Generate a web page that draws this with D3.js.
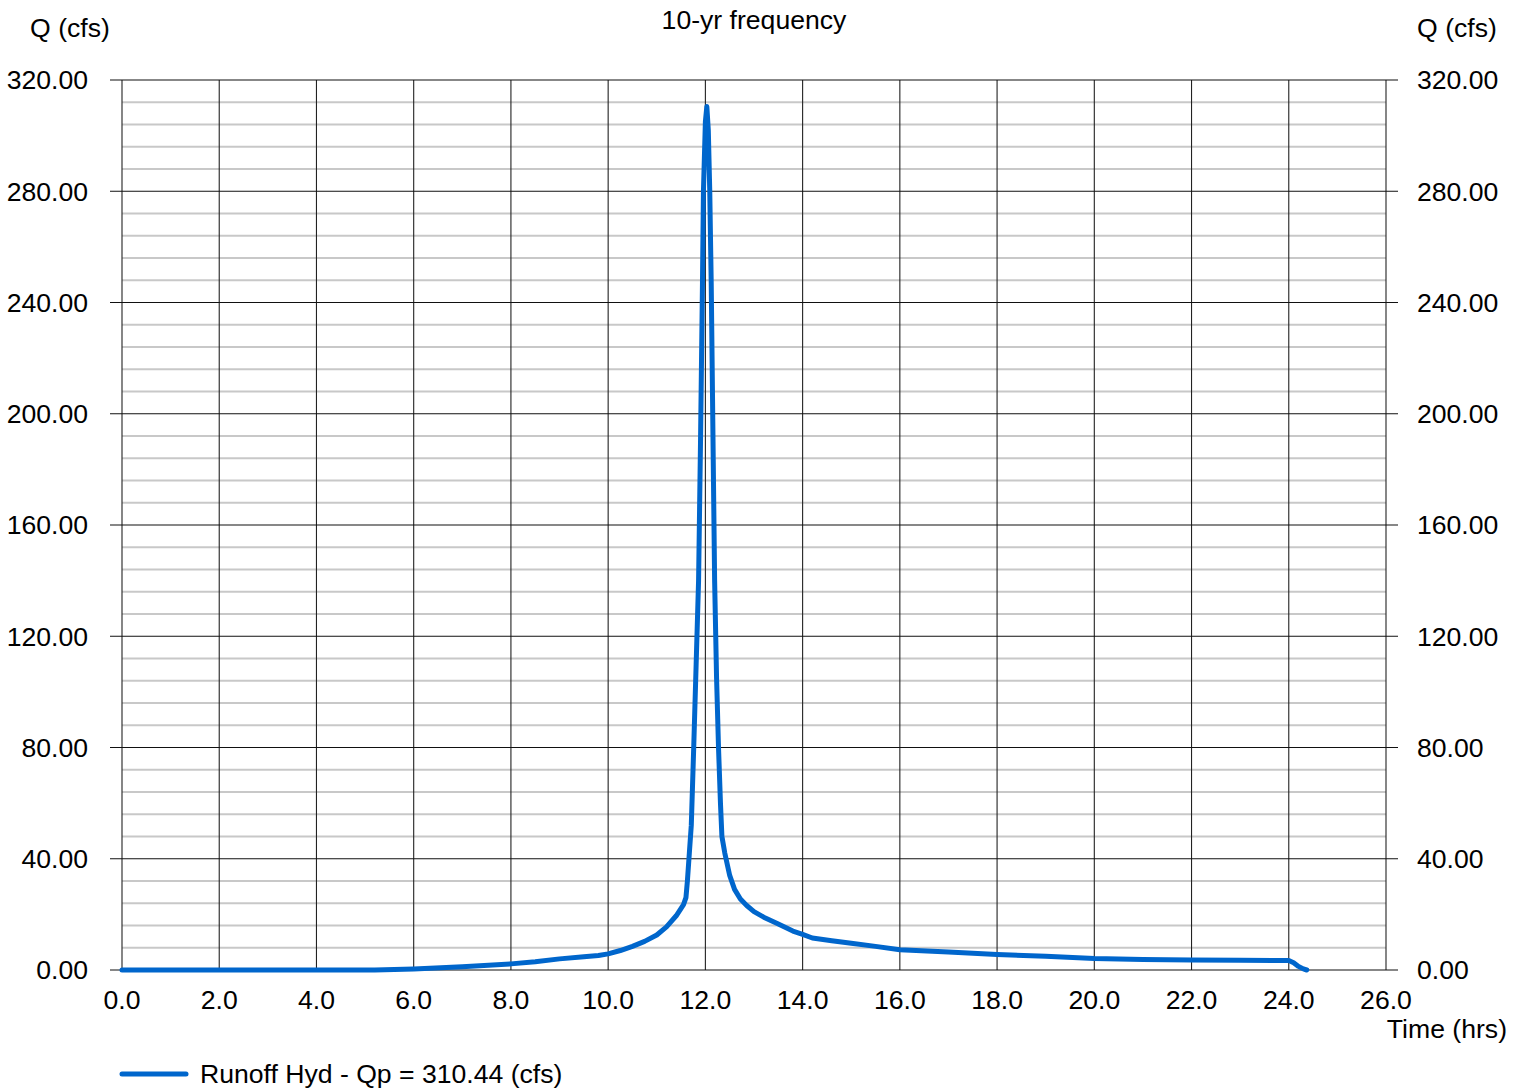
<!DOCTYPE html>
<html>
<head>
<meta charset="utf-8">
<script src="https://cdn.jsdelivr.net/npm/d3@7"></script>
<style>
  html, body { margin: 0; padding: 0; background: #fff; }
  svg text { font-family: "Liberation Sans", Arial, sans-serif; fill: #000; font-size: 26.6px; }
</style>
</head>
<body>
<div id="chart"></div>
<script>
// hydrograph
let timeHrs = [0.0, 5.2, 6.0, 7.0, 8.0, 8.5, 9.0, 9.5, 9.8, 10.0, 10.25, 10.5, 10.75, 11.0, 11.2, 11.4,
  11.55, 11.6, 11.63, 11.67, 11.71, 11.76, 11.81, 11.86, 11.9, 11.94, 11.96, 12.0, 12.03, 12.06,
  12.09, 12.12, 12.19, 12.23, 12.27, 12.31, 12.34, 12.4, 12.5, 12.6, 12.72, 12.85, 13.0, 13.2,
  13.5, 13.8, 14.0, 14.2, 14.6, 15.0, 15.5, 16.0, 17.0, 18.0, 19.0, 20.0, 21.0, 22.0, 23.0,
  24.0, 24.1, 24.2, 24.3, 24.37];
let flowCfs = [0, 0, 0.4, 1.2, 2.2, 3.0, 4.0, 4.8, 5.2, 5.8, 7.0, 8.5, 10.3, 12.6, 15.5, 19.5,
  23.5, 26, 32, 42, 52, 80, 110, 140, 190, 247, 280, 305, 310.44, 302,
  280, 247, 140, 105, 80, 60, 48, 42, 34, 29, 25.5, 23.2, 21, 19,
  16.5, 14, 12.8, 11.5, 10.5, 9.6, 8.5, 7.3, 6.5, 5.6, 4.9, 4.1, 3.8, 3.6, 3.5,
  3.4, 2.6, 1.3, 0.4, 0];

let xTicks = [0, 2, 4, 6, 8, 10, 12, 14, 16, 18, 20, 22, 24, 26];
let yTicks = [0, 40, 80, 120, 160, 200, 240, 280, 320];
let yMinor = d3.range(0, 321, 8).filter(v => v % 40 != 0);

let title = "10-yr frequency";
let yLabel = "Q (cfs)";
let xLabel = "Time (hrs)";
let legendLabel = "Runoff Hyd - Qp = 310.44 (cfs)";

const W = 1525, H = 1088;
const m = {left: 122, right: 1386, top: 80, bottom: 970};
const blue = "#0066cc";

let svg = d3.select("#chart").append("svg")
  .attr("width", W).attr("height", H)
  .attr("viewBox", `0 0 ${W} ${H}`);

let x = d3.scaleLinear().domain([0, 26]).range([m.left, m.right]);
let y = d3.scaleLinear().domain([0, 320]).range([m.bottom, m.top]);

// minor horizontal grid
svg.append("g").selectAll("line").data(yMinor).join("line")
  .attr("x1", m.left).attr("x2", m.right)
  .attr("y1", d => y(d)).attr("y2", d => y(d))
  .attr("stroke", "#c8c8c8").attr("stroke-width", 2);

// vertical grid
svg.append("g").selectAll("line").data(xTicks).join("line")
  .attr("x1", d => x(d)).attr("x2", d => x(d))
  .attr("y1", m.top).attr("y2", m.bottom)
  .attr("stroke", "#222").attr("stroke-width", 1.1);

// major horizontal grid, with ticks on both sides
svg.append("g").selectAll("line").data(yTicks).join("line")
  .attr("x1", m.left - 12).attr("x2", m.right + 12)
  .attr("y1", d => y(d)).attr("y2", d => y(d))
  .attr("stroke", "#111").attr("stroke-width", 1.1);

// tick labels
svg.append("g").selectAll("text").data(yTicks).join("text")
  .attr("x", 88).attr("y", d => y(d)).attr("dy", "0.35em")
  .attr("text-anchor", "end")
  .text(d => d.toFixed(2));

svg.append("g").selectAll("text").data(yTicks).join("text")
  .attr("x", 1417).attr("y", d => y(d)).attr("dy", "0.35em")
  .attr("text-anchor", "start")
  .text(d => d.toFixed(2));

svg.append("g").selectAll("text").data(xTicks).join("text")
  .attr("x", d => x(d)).attr("y", 1009)
  .attr("text-anchor", "middle")
  .text(d => d.toFixed(1));

// titles
svg.append("text").attr("x", 754).attr("y", 29)
  .attr("text-anchor", "middle").text(title);
svg.append("text").attr("x", 70).attr("y", 37)
  .attr("text-anchor", "middle").text(yLabel);
svg.append("text").attr("x", 1457).attr("y", 37)
  .attr("text-anchor", "middle").text(yLabel);
svg.append("text").attr("x", 1507).attr("y", 1038)
  .attr("text-anchor", "end").text(xLabel);

// hydrograph
let pts = timeHrs.map((t, i) => [t, flowCfs[i]]);
let line = d3.line().x(d => x(d[0])).y(d => y(d[1]));
svg.append("path").datum(pts)
  .attr("d", line)
  .attr("fill", "none")
  .attr("stroke", blue)
  .attr("stroke-width", 5)
  .attr("stroke-linejoin", "round")
  .attr("stroke-linecap", "round");

// legend
let lg = svg.append("g").attr("transform", "translate(122,1074)");
lg.append("line").attr("x1", 0).attr("x2", 64).attr("y1", 0).attr("y2", 0)
  .attr("stroke", blue).attr("stroke-width", 5).attr("stroke-linecap", "round");
lg.append("text").attr("x", 78).attr("y", 0).attr("dy", "0.35em")
  .text(legendLabel);
</script>
</body>
</html>
